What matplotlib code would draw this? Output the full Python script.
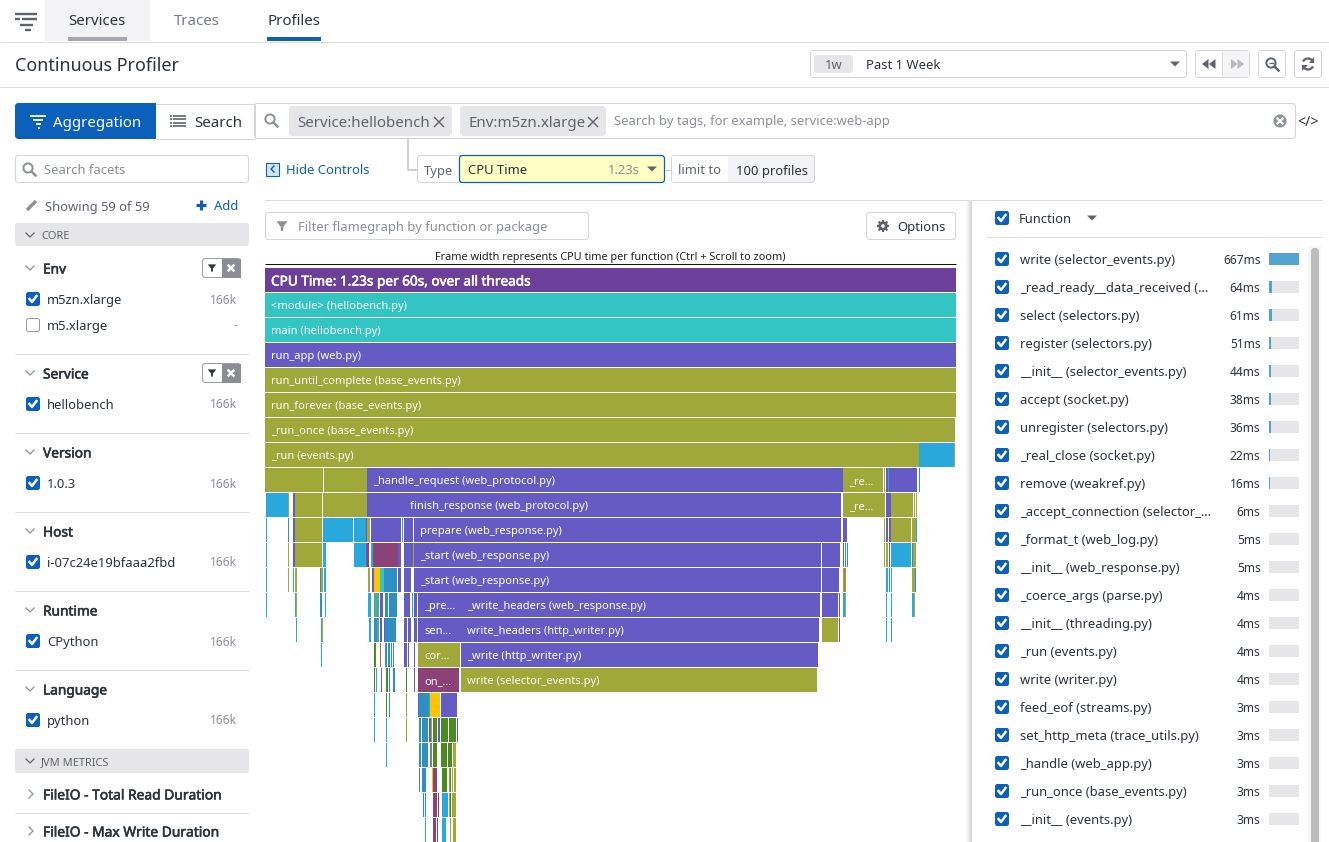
import matplotlib
matplotlib.use('Agg')
from matplotlib import pyplot as plt
from matplotlib import patheffects
from matplotlib.patches import Rectangle, FancyBboxPatch, Polygon, Circle, Arc

plt.rcParams['font.family'] = ['Noto Sans', 'DejaVu Sans']

W, H = 1329, 842

# function list on the right
function_names = ['write (selector_events.py)', '_read_ready__data_received (...', 'select (selectors.py)',
                  'register (selectors.py)', '__init__ (selector_events.py)', 'accept (socket.py)',
                  'unregister (selectors.py)', '_real_close (socket.py)', 'remove (weakref.py)',
                  '_accept_connection (selector_...', '_format_t (web_log.py)', '__init__ (web_response.py)',
                  '_coerce_args (parse.py)', '__init__ (threading.py)', '_run (events.py)', 'write (writer.py)',
                  'feed_eof (streams.py)', 'set_http_meta (trace_utils.py)', '_handle (web_app.py)',
                  '_run_once (base_events.py)', '__init__ (events.py)']
function_ms = [667, 64, 61, 51, 44, 38, 36, 22, 16, 6, 5, 5, 4, 4, 4, 4, 3, 3, 3, 3, 3]

# facet sidebar
facet_titles = ['Env', 'Service', 'Version', 'Host', 'Runtime', 'Language']
facet_items = [['m5zn.xlarge', 'm5.xlarge'], ['hellobench'], ['1.0.3'], ['i-07c24e19bfaaa2fbd'], ['CPython'], ['python']]
facet_counts = [['166k', '-'], ['166k'], ['166k'], ['166k'], ['166k'], ['166k']]

# flamegraph: one list per stack depth, (first sample, samples, package, name)
total_samples = 691
flame = [
    [(0, 691, 'root', 'CPU Time: 1.23s per 60s, over all threads')],
    [(0, 691, 'teal', '<module> (hellobench.py)')],
    [(0, 691, 'teal', 'main (hellobench.py)')],
    [(0, 691, 'web', 'run_app (web.py)')],
    [(0, 691, 'async', 'run_until_complete (base_events.py)')],
    [(0, 691, 'async', 'run_forever (base_events.py)')],
    [(0, 690, 'async', '_run_once (base_events.py)')],
    [(0, 654, 'async', '_run (events.py)'), (654, 35, 'std', ''), (689, 1, 'async', '')],
    [(0, 58, 'async', ''), (59, 43, 'async', ''), (102, 476, 'web', '_handle_request (web_protocol.py)'),
     (578, 40, 'async', '_re...'), (619, 1, 'async', ''), (621, 2, 'web', ''), (623, 1, 'std', ''),
     (624, 28, 'web', ''), (654, 1, 'steel', '')],
    [(1, 22, 'std', ''), (23, 1, 'async', ''), (28, 2, 'web', ''), (30, 27, 'async', ''), (58, 44, 'async', ''),
     (102, 37, 'web', ''), (139, 437, 'web', 'finish_response (web_protocol.py)'), (578, 40, 'async', '_re...'),
     (618, 2, 'async', ''), (621, 5, 'web', ''), (626, 22, 'async', ''), (649, 1, 'async', ''), (651, 1, 'async', '')],
    [(1, 1, 'std', ''), (23, 1, 'steel', ''), (28, 2, 'web', ''), (30, 27, 'async', ''), (58, 30, 'std', ''),
     (89, 12, 'std', ''), (101, 1, 'web', ''), (102, 3, 'async', ''), (106, 30, 'web', ''), (137, 1, 'std', ''),
     (139, 9, 'web', ''), (149, 427, 'web', 'prepare (web_response.py)'), (578, 4, 'web', ''), (619, 1, 'async', ''),
     (621, 2, 'web', ''), (624, 2, 'web', ''), (626, 20, 'async', ''), (647, 4, 'async', ''), (651, 1, 'std', '')],
    [(1, 1, 'std', ''), (23, 1, 'async', ''), (28, 2, 'web', ''), (30, 27, 'async', ''), (58, 3, 'std', ''),
     (89, 12, 'std', ''), (101, 1, 'web', ''), (102, 2, 'plum', ''), (106, 2, 'std', ''), (108, 25, 'plum', ''),
     (133, 3, 'web', ''), (139, 9, 'web', ''), (148, 1, 'async', ''), (149, 407, 'web', '_start (web_response.py)'),
     (557, 18, 'web', ''), (578, 1, 'green', ''), (580, 1, 'steel', ''), (582, 1, 'steel', ''), (619, 1, 'async', ''),
     (621, 2, 'async', ''), (624, 1, 'web', ''), (626, 20, 'std', ''), (647, 1, 'steel', ''), (648, 3, 'async', '')],
    [(1, 1, 'std', ''), (23, 1, 'async', ''), (28, 1, 'std', ''), (30, 2, 'async', ''), (55, 1, 'steel', ''),
     (56, 2, 'async', ''), (59, 2, 'std', ''), (103, 2, 'async', ''), (107, 2, 'web', ''), (109, 6, 'yellow', ''),
     (115, 4, 'teal', ''), (119, 13, 'steel', ''), (133, 3, 'web', ''), (139, 7, 'web', ''),
     (149, 407, 'web', '_start (web_response.py)'), (557, 17, 'web', ''), (578, 1, 'async', ''), (579, 1, 'rust', ''),
     (580, 1, 'async', ''), (621, 2, 'std', ''), (624, 1, 'steel', ''), (626, 1, 'std', ''), (647, 3, 'async', ''),
     (650, 1, 'steel', '')],
    [(1, 1, 'std', ''), (30, 1, 'std', ''), (31, 1, 'async', ''), (55, 2, 'steel', ''), (60, 1, 'std', ''),
     (103, 3, 'std', ''), (109, 5, 'sea', ''), (115, 3, 'web', ''), (120, 3, 'steel', ''), (124, 8, 'steel', ''),
     (139, 6, 'web', ''), (147, 1, 'std', ''), (149, 3, 'web', ''), (153, 43, 'web', '_pre...'),
     (196, 359, 'web', '_write_headers (web_response.py)'), (557, 16, 'web', ''), (574, 1, 'web', ''),
     (578, 2, 'std', ''), (580, 1, 'async', ''), (621, 1, 'std', ''), (626, 1, 'std', ''), (647, 2, 'std', ''),
     (649, 1, 'async', '')],
    [(31, 1, 'std', ''), (56, 1, 'std', ''), (57, 1, 'async', ''), (104, 2, 'std', ''), (109, 3, 'steel', ''),
     (112, 2, 'sea', ''), (115, 2, 'web', ''), (119, 1, 'web', ''), (120, 11, 'steel', ''), (139, 3, 'web', ''),
     (143, 3, 'web', ''), (149, 3, 'web', ''), (153, 43, 'web', 'sen...'),
     (196, 358, 'web', 'write_headers (http_writer.py)'), (557, 16, 'async', ''), (574, 1, 'web', ''),
     (621, 1, 'std', ''), (626, 1, 'std', '')],
    [(56, 1, 'std', ''), (109, 2, 'green', ''), (115, 1, 'rust', ''), (120, 2, 'steel', ''), (123, 2, 'steel', ''),
     (126, 1, 'steel', ''), (128, 1, 'steel', ''), (139, 3, 'web', ''), (143, 1, 'web', ''), (149, 1, 'web', ''),
     (153, 42, 'async', 'cor...'), (196, 357, 'web', '_write (http_writer.py)')],
    [(109, 1, 'green', ''), (111, 1, 'std', ''), (116, 1, 'web', ''), (121, 2, 'green', ''), (124, 1, 'steel', ''),
     (128, 2, 'steel', ''), (141, 1, 'green', ''), (149, 1, 'web', ''), (153, 41, 'plum', 'on_...'),
     (196, 356, 'async', 'write (selector_events.py)')],
    [(109, 1, 'std', ''), (121, 1, 'green', ''), (124, 1, 'steel', ''), (141, 1, 'async', ''), (153, 1, 'web', ''),
     (154, 10, 'steel', ''), (164, 1, 'sea', ''), (165, 10, 'yellow', ''), (176, 16, 'web', '')],
    [(109, 1, 'std', ''), (121, 1, 'std', ''), (141, 1, 'async', ''), (154, 2, 'steel', ''), (157, 6, 'steel', ''),
     (164, 2, 'web', ''), (166, 1, 'async', ''), (168, 4, 'green', ''), (173, 2, 'web', ''), (176, 7, 'green', ''),
     (184, 7, 'green', ''), (192, 1, 'web', '')],
    [(121, 1, 'std', ''), (154, 2, 'steel', ''), (157, 6, 'steel', ''), (165, 1, 'steel', ''), (166, 1, 'rust', ''),
     (168, 4, 'green', ''), (176, 6, 'green', ''), (183, 4, 'green', ''), (188, 3, 'async', '')],
    [(154, 1, 'steel', ''), (157, 4, 'steel', ''), (167, 1, 'yellow', ''), (168, 4, 'plum', ''), (177, 5, 'green', ''),
     (184, 1, 'async', ''), (185, 1, 'green', ''), (187, 1, 'async', ''), (189, 2, 'async', '')],
    [(158, 1, 'steel', ''), (160, 1, 'steel', ''), (168, 4, 'plum', ''), (173, 1, 'plum', ''), (177, 6, 'std', ''),
     (184, 1, 'async', ''), (185, 1, 'green', ''), (187, 1, 'async', ''), (188, 3, 'async', '')],
    [(160, 1, 'std', ''), (168, 3, 'plum', ''), (171.5, 1, 'plum', ''), (177, 4, 'std', ''), (185, 1, 'async', ''),
     (188, 3, 'async', '')],
]
package_colors = {'root': '#6c409a', 'teal': '#33c4c4', 'web': '#645cc4', 'async': '#9fa838', 'std': '#29a9db',
                  'steel': '#2e8fc4', 'plum': '#8c4277', 'yellow': '#fec400', 'green': '#4a8a1f', 'sea': '#4aab96',
                  'rust': '#c9693f'}

DARK = '#2d333b'
MID = '#5f646c'
GREY = '#8b8f96'
LINE = '#dcdcdf'
BOX = '#d5d5d9'
BLUE = '#0b60bb'
PILL = '#e6e6e9'
PX = 0.72

fig = plt.figure(figsize=(W/100, H/100), dpi=100)
ui = fig.add_axes([0, 0, 1, 1])
ui.set_xlim(0, W)
ui.set_ylim(H, 0)
ui.axis('off')


def label(x, y, s, px=13, color=DARK, ha='left', bold=False, z=4):
    t = ui.text(x, y, s, fontsize=px*PX, color=color, ha=ha, va='center_baseline', zorder=z)
    if bold:
        # the installed Noto Sans has no heavier face to pick
        t.set_path_effects([patheffects.withStroke(linewidth=0.4, foreground=color)])


def hline(x0, x1, y, color=LINE, lw=PX, z=3):
    ui.plot([x0, x1], [y, y], color=color, lw=lw, solid_capstyle='butt', zorder=z)


def vline(x, y0, y1, color=LINE, lw=PX, z=3):
    ui.plot([x, x], [y0, y1], color=color, lw=lw, solid_capstyle='butt', zorder=z)


def box(x0, y0, x1, y1, fc='white', ec=BOX, r=3, lw=PX, z=1):
    ui.add_patch(FancyBboxPatch((x0+r+0.5, y0+r+0.5), x1-x0-2*r-1, y1-y0-2*r-1,
                                boxstyle='round,pad=%g,rounding_size=%g' % (r, r), fc=fc, ec=ec, lw=lw, zorder=z))


def rect(x0, y0, x1, y1, fc, z=1):
    ui.add_patch(Rectangle((x0, y0), x1-x0, y1-y0, fc=fc, ec='none', zorder=z))


def check(x, y, on=True):
    if on:
        box(x, y-7, x+14, y+7, fc=BLUE, ec=BLUE, r=2, z=3)
        ui.plot([x+3.5, x+6, x+10.5], [y, y+3, y-3], color='white', lw=1.8, zorder=4)
    else:
        box(x, y-7, x+14, y+7, fc='white', ec='#9a9da3', r=2, z=3)


def chevron(x, y, color=GREY, right=False):
    if right:
        ui.plot([x-2, x+2, x-2], [y-4, y, y+4], color=color, lw=0.9)
    else:
        ui.plot([x-4, x, x+4], [y-2, y+2, y-2], color=color, lw=0.9)


def caret(x, y, color=MID):
    ui.add_patch(Polygon([(x-5, y-2.5), (x+5, y-2.5), (x, y+2.5)], fc=color, ec='none', zorder=4))


def magnifier(x, y, color=GREY):
    ui.add_patch(Circle((x-1, y-1), 4.6, fc='none', ec=color, lw=1.4, zorder=4))
    ui.plot([x+2.5, x+6.5], [y+2.5, y+6.5], color=color, lw=1.8, zorder=4)


def funnel(x, y, color=GREY, s=1.0):
    ui.add_patch(Polygon([(x-7*s, y-6*s), (x+7*s, y-6*s), (x+1.5*s, y+1*s), (x+1.5*s, y+6*s), (x-1.5*s, y+6*s),
                          (x-1.5*s, y+1*s)], fc=color, ec='none', zorder=4))


def cross(x, y, color=MID, s=4.5, lw=1.0):
    ui.plot([x-s, x+s], [y-s, y+s], color=color, lw=lw, zorder=4)
    ui.plot([x-s, x+s], [y+s, y-s], color=color, lw=lw, zorder=4)


# top navigation
rect(45, 0, 150, 41, '#f3f2f5')
hline(15, 37, 13.5, MID, 1.7)
hline(15, 20, 19, MID, 1.7)
hline(22, 37, 19, MID, 1.7)
hline(20, 33, 24.5, MID, 1.7)
hline(25, 31, 30, MID, 1.7)
label(97, 19.5, 'Services', 15, DARK, 'center')
rect(68, 37, 127, 41, '#a8a6ac', 2)
label(174, 19.5, 'Traces', 15, '#767a82')
label(267.5, 19.5, 'Profiles', 15, DARK)
rect(267, 37, 321, 41, BLUE, 2)
hline(0, W, 41.5)
label(15, 64, 'Continuous Profiler', 18, DARK)
hline(0, W, 86.5)

# time picker
box(810, 50, 1187, 78)
box(814, 55, 853, 73, fc=PILL, ec=PILL)
label(833.5, 64, '1w', 13, MID, 'center')
label(866, 64, 'Past 1 Week', 13)
caret(1175, 64)
box(1195, 50, 1250, 78)
rect(1222, 51, 1249, 77, '#f5f5f7', 2)
vline(1222, 51, 77)
for xx in (1208.5, 1215.5):
    ui.add_patch(Polygon([(xx, 59), (xx, 69), (xx-6.5, 64)], fc=MID, ec='none', zorder=4))
for xx in (1231, 1237.5):
    ui.add_patch(Polygon([(xx, 59), (xx, 69), (xx+6.5, 64)], fc='#b8bac0', ec='none', zorder=4))
box(1258, 50, 1286, 78)
magnifier(1272, 64, MID)
hline(1268.5, 1273.5, 63, MID, 1.0)
box(1294, 50, 1322, 78)
ui.add_patch(Arc((1308, 64), 11, 11, theta1=25, theta2=165, ec=MID, lw=1.6, zorder=4))
ui.add_patch(Arc((1308, 64), 11, 11, theta1=205, theta2=345, ec=MID, lw=1.6, zorder=4))
ui.add_patch(Polygon([(1314, 57), (1314, 63), (1308.5, 63)], fc=MID, ec='none', zorder=4))
ui.add_patch(Polygon([(1302, 71), (1302, 65), (1307.5, 65)], fc=MID, ec='none', zorder=4))

# search row
box(254, 103, 1296, 139)
box(15, 103, 160, 139, fc=BLUE, ec=BLUE, z=2)
rect(156, 103, 254, 139, 'white', 2)
hline(156, 254, 103.5, BOX)
hline(156, 254, 138.5, BOX)
vline(254.5, 103, 139, BOX)
hline(30, 46, 116, 'white', 1.3, 4)
hline(33, 43, 120, 'white', 1.3, 4)
hline(36, 41, 124, 'white', 1.3, 4)
hline(37.5, 39.5, 128, 'white', 1.3, 4)
label(53, 121.5, 'Aggregation', 15, 'white')
for yy in (115.5, 119, 122.5, 126):
    hline(170, 172, yy, MID, 1.2, 4)
    hline(173, 186, yy, MID, 1.2, 4)
label(194, 121.5, 'Search', 15, DARK)
magnifier(271, 120, GREY)
box(289, 106, 452, 136, fc=PILL, ec=PILL)
label(297, 121.5, 'Service:hellobench', 15, MID)
cross(439, 122, MID)
box(460, 106, 606, 136, fc=PILL, ec=PILL)
label(468, 121.5, 'Env:m5zn.xlarge', 15, MID)
cross(593, 122, MID)
label(614, 120.5, 'Search by tags, for example, service:web-app', 13, GREY)
ui.add_patch(Circle((1280, 121), 6.5, fc='#8f9298', ec='none', zorder=3))
cross(1280, 121, 'white', 2.5, 1.6)
label(1307.5, 121, '</>', 14, DARK, 'center')

# controls row
ui.plot([407.5, 407.5, 417], [139, 169.5, 169.5], color='#c4c4c8', lw=1.1, zorder=0)
box(417, 155, 500, 183)
label(424, 169.5, 'Type', 13, MID)
box(459, 155, 665, 183, fc='#ffffc4', ec=BLUE, lw=0.9, z=2)
label(468, 169.5, 'CPU Time', 13, DARK)
label(640, 169.5, '1.23s', 13, GREY, 'right')
caret(652, 169)
hline(665, 671, 169.5, '#c4c4c8')
box(671, 155, 815, 183, fc='#f3f2f5')
rect(672, 156, 728, 182, 'white', 2)
label(678, 169.5, 'limit to', 13, MID)
label(736, 169.5, '100 profiles', 13, DARK)
ui.add_patch(Rectangle((265.5, 162.5), 13, 13, fc='#d6e5f5', ec=BLUE, lw=0.8, zorder=3))
ui.plot([274, 271, 274], [166, 169, 172], color=BLUE, lw=1, zorder=4)
label(286, 169.5, 'Hide Controls', 13, BLUE)
hline(265, 1322, 199.5)

# sidebar
box(15, 155, 249, 183)
magnifier(29, 169, GREY)
label(44, 169.5, 'Search facets', 13, GREY)
ui.plot([27, 36], [210, 201], color=GREY, lw=2.4, solid_capstyle='butt')
label(45, 205.5, 'Showing 59 of 59', 13, MID)
hline(196, 206, 205, BLUE, 2.2)
vline(201, 200, 210, BLUE, 2.2)
label(214, 205.5, 'Add', 13, BLUE)
box(15, 223, 249, 246, fc=PILL, ec=PILL, r=2)
chevron(30, 235, MID)
label(41, 235, 'CORE', 11, MID)

facet_title_y = [268, 373, 452, 531, 610, 689]
for f, title in enumerate(facet_titles):
    y = facet_title_y[f]
    chevron(30, y, GREY)
    label(43, y, title, 13.7, DARK, bold=True)
    for i, item in enumerate(facet_items[f]):
        iy = y + 31 + 26*i
        check(26, iy, on=not (f == 0 and i == 1))
        label(47, iy, item, 13, DARK)
        label(237.5, iy-0.5, facet_counts[f][i], 12, GREY, 'right')
    if f < len(facet_titles) - 1:
        hline(15, 249, facet_title_y[f+1] - 19.5)
    if f < 2:
        box(202, y-10, 241, y+10, fc='white', ec='#9a9da3')
        rect(222, y-9.5, 240.5, y+9.5, '#8c8c94', 2)
        funnel(212, y, DARK, 0.6)
        cross(231, y, 'white', 2.5, 1.8)

box(15, 749, 249, 773, fc=PILL, ec=PILL, r=2)
chevron(30, 761, MID)
label(41, 761, 'JVM METRICS', 11, MID)
chevron(31, 794, GREY, right=True)
label(43, 794, 'FileIO - Total Read Duration', 13.8, DARK, bold=True)
hline(15, 249, 812.5)
chevron(31, 831, GREY, right=True)
label(43, 831, 'FileIO - Max Write Duration', 13.8, DARK, bold=True)

# flamegraph controls
box(265, 212, 589, 240)
funnel(282, 226, GREY, 0.8)
label(298, 226.5, 'Filter flamegraph by function or package', 13, GREY)
box(866, 212, 956, 240)
ui.add_patch(Circle((883, 226), 4.6, fc=MID, ec='none', zorder=3))
for dx, dy in [(6, 0), (0, 6), (4.4, 4.4), (4.4, -4.4)]:
    ui.plot([883-dx, 883+dx], [226-dy, 226+dy], color=MID, lw=1.6, solid_capstyle='butt', zorder=3)
ui.add_patch(Circle((883, 226), 1.8, fc='white', ec='none', zorder=4))
label(897, 226.5, 'Options', 13, DARK)
label(610.5, 256, 'Frame width represents CPU time per function (Ctrl + Scroll to zoom)', 10.9, '#222222', 'center')
hline(265, 956, 263.5, '#111111')

# flamegraph
row_h = 25
n_rows = (H - 268) / row_h
ax = fig.add_axes([265/W, 0, total_samples/W, (H-268)/H])
ax.set_xlim(0, total_samples)
ax.set_ylim(n_rows, 0)
ax.axis('off')
for depth, frames in enumerate(flame):
    for start, samples, pkg, name in frames:
        ax.barh(depth, samples, left=start, height=24/row_h, align='edge', color=package_colors[pkg], linewidth=0)
        if name:
            t = ax.text(start + 6, depth + 0.48, name, color='white', fontsize=(13.6 if depth == 0 else 11.1)*PX,
                        va='center_baseline', clip_on=True)
            if depth == 0:
                t.set_path_effects([patheffects.withStroke(linewidth=0.4, foreground='white')])

# right panel
for i, a in enumerate([0.02, 0.03, 0.05, 0.07, 0.09, 0.12, 0.16]):
    vline(965.5+i, 200, H, 'black', 1, 2)
    ui.lines[-1].set_alpha(a)
rect(972, 200, W, H, 'white', 2)
check(995, 218)
label(1019, 218, 'Function', 13, DARK)
caret(1092, 218)
hline(986, 1322, 236.5)
rect(1308, 246, 1321, H, '#f6f6f6', 3)
box(1311, 248, 1319, H+10, fc='#bdbdbd', ec='#bdbdbd', z=4)

for i, (name, ms) in enumerate(zip(function_names, function_ms)):
    y = 259 + 28*i
    check(995, y)
    label(1020, y, name, 13, DARK)
    label(1260.5, y, '%dms' % ms, 12, DARK, 'right')

ax_bar = fig.add_axes([1269/W, 1 - (259+28*20+14)/H, 30/W, 28*21/H])
ax_bar.set_xlim(0, max(function_ms))
ax_bar.set_ylim(20.5, -0.5)
ax_bar.axis('off')
ax_bar.barh(range(len(function_ms)), [max(function_ms)]*len(function_ms), height=12/28, color=PILL, linewidth=0)
ax_bar.barh(range(len(function_ms)), function_ms, height=12/28, color='#52a3d1', linewidth=0)

fig.savefig('out.png', dpi=100)
